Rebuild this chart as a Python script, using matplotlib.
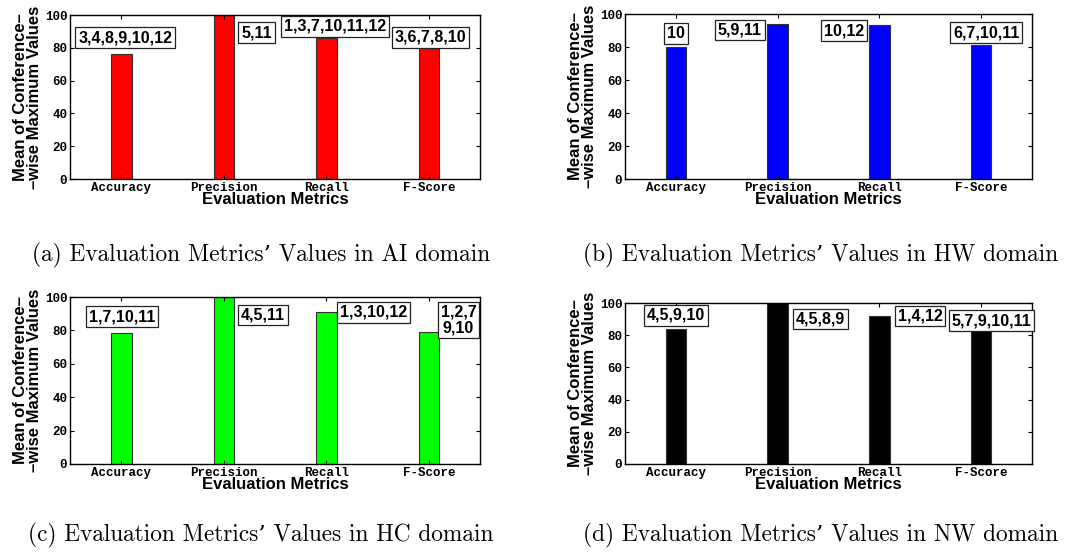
import matplotlib
matplotlib.use("Agg")
import matplotlib.pyplot as plt
import numpy as np

metrics = ["Accuracy", "Precision", "Recall", "F-Score"]

ai_values = [76.2, 100.0, 85.8, 79.7]
hw_values = [79.8, 93.7, 93.5, 81.4]
hc_values = [78.6, 100.0, 90.8, 79.0]
nw_values = [83.7, 100.0, 92.2, 83.3]

ai_labels = ["3,4,8,9,10,12", "5,11", "1,3,7,10,11,12", "3,6,7,8,10"]
hw_labels = ["10", "5,9,11", "10,12", "6,7,10,11"]
hc_labels = ["1,7,10,11", "4,5,11", "1,3,10,12", "1,2,7\n9,10"]
nw_labels = ["4,5,9,10", "4,5,8,9", "1,4,12", "5,7,9,10,11"]

# label anchor positions (data coords)
ai_lab_x = [1.04, 2.32, 3.09, 4.02]
ai_lab_y = [86.2, 89.3, 93.0, 86.4]
hw_lab_x = [1.00, 1.63, 2.65, 4.05]
hw_lab_y = [88.0, 90.3, 89.8, 88.6]
hc_lab_x = [1.01, 2.38, 3.46, 4.29]
hc_lab_y = [88.2, 89.2, 90.9, 86.2]
nw_lab_x = [1.00, 2.42, 3.40, 4.10]
nw_lab_y = [92.4, 90.1, 91.9, 88.9]

captions = [
    "(a) Evaluation Metrics\u2019 Values in AI domain",
    "(b) Evaluation Metrics\u2019 Values in HW domain",
    "(c) Evaluation Metrics\u2019 Values in HC domain",
    "(d) Evaluation Metrics\u2019 Values in NW domain",
]

W, H = 1078, 553
fig = plt.figure(figsize=(W / 100, H / 100), dpi=100)

def rect(l, r, t, b):
    return [l / W, 1 - b / H, (r - l) / W, (b - t) / H]

panels = [
    (rect(70, 480, 15, 179), ai_values, ai_labels, ai_lab_x, ai_lab_y, (1, 0, 0), captions[0], 255, 261),
    (rect(625, 1032, 14, 179), hw_values, hw_labels, hw_lab_x, hw_lab_y, (0, 0, 1), captions[1], 255, 821),
    (rect(70, 480, 297, 464), hc_values, hc_labels, hc_lab_x, hc_lab_y, (0, 1, 0), captions[2], 535, 261),
    (rect(625, 1032, 303, 464), nw_values, nw_labels, nw_lab_x, nw_lab_y, (0, 0, 0), captions[3], 535, 821),
]

sans_bold = ["Liberation Sans", "DejaVu Sans"]
mono = ["Liberation Mono", "DejaVu Sans Mono"]

for pos, vals, labs, lx, ly, col, cap, cy, cxp in panels:
    ax = fig.add_axes(pos)
    x = np.arange(1, len(metrics) + 1)
    ax.bar(x, vals, width=0.2, color=col, edgecolor="#333333", linewidth=0.8)
    ax.set_xlim(0.5, 4.5)
    ax.set_ylim(0, 100)
    ax.set_xticks(x)
    ax.set_xticklabels(metrics, family=mono, fontweight="bold", fontsize=9)
    ax.set_yticks(np.arange(0, 101, 20))
    ax.set_yticklabels([str(v) for v in range(0, 101, 20)], family=mono, fontweight="bold", fontsize=9)
    ax.tick_params(direction="in", length=3, top=True, right=True, width=0.8, pad=2)
    for s in ax.spines.values():
        s.set_linewidth(1.0)
    ax.set_xlabel("Evaluation Metrics", family=sans_bold, fontweight="bold", fontsize=12, labelpad=-1)
    ax.set_ylabel("Mean of Conference\u2013\n\u2013wise Maximum Values", family=sans_bold,
                  fontweight="bold", fontsize=12, labelpad=2, linespacing=0.95)
    for tx, ty, t in zip(lx, ly, labs):
        ax.text(tx, ty, t, ha="center", va="center", family=sans_bold, fontweight="bold",
                fontsize=11.5, linespacing=1.05,
                bbox=dict(boxstyle="square,pad=0.18", fc="white", ec="#222222", lw=0.9))
    fig.text(cxp / W, 1 - cy / H, cap, ha="center", va="center", family=["cmr10", "DejaVu Serif"],
             fontsize=16.8)

fig.savefig("out.png", dpi=100)
